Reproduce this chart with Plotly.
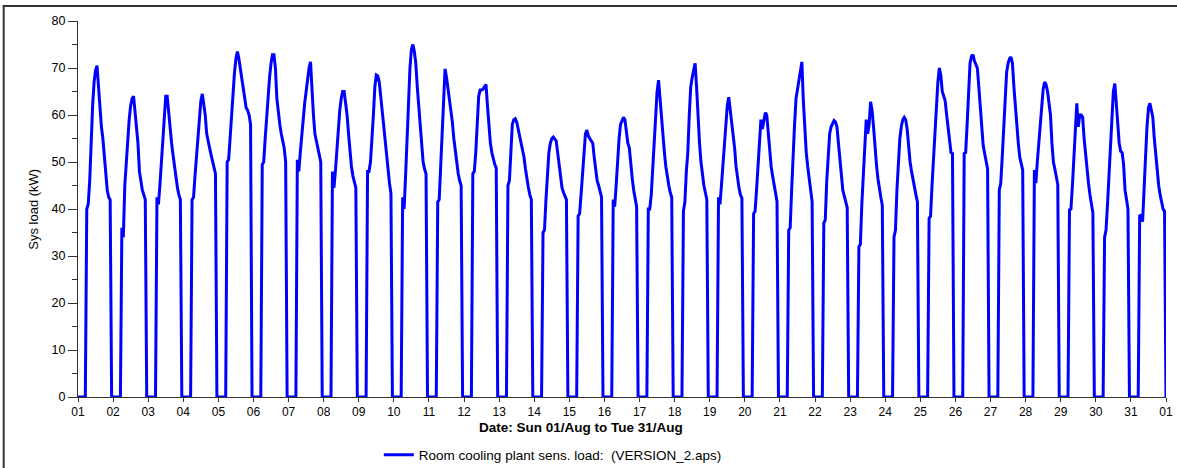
import datetime as dt
import plotly.graph_objects as go

# Hourly room cooling plant sensible load (kW) while the plant is on,
# starting at 06:00 each day (zero at all other hours)
ON_HOUR = 6
aug01 = [40, 41, 46, 55, 62, 67, 69.5, 70.5, 66, 60, 57.5, 55, 51, 46.5, 44, 42.5, 42]
aug02 = [36, 34, 45, 50, 55, 59, 62, 63.5, 64, 61, 57, 54, 48, 45.5, 44, 43, 42]
aug03 = [42.5, 41, 45, 50, 55, 60, 64, 64, 60, 56, 54, 51.5, 49, 46.5, 44.5, 43, 42]
aug04 = [42, 42.5, 47, 51.5, 56, 60, 63, 64.5, 62.5, 60, 56, 54, 53, 51.5, 50, 49, 47.5]
aug05 = [50, 50.5, 55, 60, 65.5, 69, 72, 73.5, 72, 70, 68, 65, 63, 61.5, 61, 60, 58]
aug06 = [49.5, 50, 55, 60, 64.5, 68, 71, 72.8, 72.8, 70, 63.5, 60, 58, 56, 54.5, 53, 50]
aug07 = [50.5, 48, 52, 56, 60, 62.5, 65, 68, 70, 71.3, 65, 60, 56, 54.5, 53.3, 52, 50]
aug08 = [48, 44.5, 48, 53, 58, 61, 63.5, 65, 65, 63, 60, 56, 52, 49, 47, 45.5, 44.5]
aug09 = [48, 48, 50, 54, 60, 66, 68.5, 68.3, 67, 64, 61, 57, 54, 50.5, 48, 45.5, 43.3]
aug10 = [42.5, 40, 47, 56, 64, 70, 74, 75, 73.5, 71, 66, 62, 57, 53, 50, 48.5, 47.5]
aug11 = [41.5, 42, 49, 56, 64, 69.8, 68, 65.5, 64, 61.5, 58.5, 55, 52, 49, 47.5, 46, 45]
aug12 = [47.5, 48, 52, 58.5, 64, 65.3, 65.3, 65.5, 66, 66.5, 62, 57, 54, 52, 50.5, 49.5, 48.7]
aug13 = [45, 46, 52, 58, 59, 59.2, 58.5, 57, 56, 54.5, 53, 51, 48.5, 46, 44.5, 43, 42]
aug14 = [35, 35.5, 42, 48, 52, 54, 55, 55.3, 55, 54.5, 52, 49, 46, 44.5, 43.5, 42.7, 42]
aug15 = [38.5, 39, 43, 48, 52.5, 56, 56.8, 55.5, 55, 54.5, 54, 51, 48, 46, 45, 44, 42.5]
aug16 = [42, 40.5, 45, 51, 55, 58, 59, 59.5, 59, 56, 54, 53, 49, 46.5, 44, 42, 40.5]
aug17 = [40, 40, 43, 48.5, 55, 61, 65, 67.4, 63, 59, 55.5, 52, 49, 46.5, 45, 43.5, 42.5]
aug18 = [39.5, 41.5, 48, 52, 60, 66, 68, 69.5, 71, 66, 58.5, 54, 50, 47, 45, 43.5, 42]
aug19 = [42.5, 41, 45, 49, 54, 59, 62, 63.8, 61, 58.5, 56.5, 53, 49, 46.5, 44.5, 43, 42.3]
aug20 = [39, 39.5, 44, 50, 56, 59, 57, 59, 60.5, 60, 56, 52, 49, 47, 45, 43, 41.6]
aug21 = [35.5, 36, 44, 52, 58, 63.5, 65.5, 67.5, 69.5, 71.3, 63, 57, 52, 49, 46.5, 43.5, 41.6]
aug22 = [37, 37.7, 46, 52, 56, 57.5, 58.3, 58.8, 58.5, 57.5, 54, 50, 47, 44, 42.8, 41.5, 40.3]
aug23 = [32, 32.5, 41, 48, 55, 59, 56, 58, 62.8, 61, 57.5, 53, 49.5, 46.5, 44, 42.5, 40.8]
aug24 = [34, 35.5, 44, 50, 55, 57.5, 59, 59.5, 59, 57, 53, 50, 48, 46, 44.5, 43, 41.5]
aug25 = [38, 38.5, 45, 51, 57, 62.5, 67, 70, 68.5, 65, 64, 63, 60, 57, 54, 52, 51.8]
aug26 = [51.8, 52, 58, 65, 71, 72.5, 72.8, 71.5, 70.5, 70, 66, 61, 56, 53.5, 51.8, 50, 48.5]
aug27 = [44, 45.5, 51, 58, 64, 69, 71, 72, 72.3, 71, 66, 61.5, 57, 54, 51, 49.5, 48.3]
aug28 = [48.3, 45.5, 50, 54, 59, 62.5, 65.5, 67, 66.5, 65, 63, 60, 54, 50, 48.5, 46.5, 45.2]
aug29 = [39.8, 40, 45, 51, 57, 62.5, 57.5, 60, 60, 59.5, 55, 51.5, 48, 45.5, 43, 41, 39.2]
aug30 = [34, 35.5, 41, 47, 55, 61, 65, 66.7, 62, 58, 54, 52.3, 52, 49.5, 44, 42, 40]
aug31 = [38.7, 38.5, 37.3, 43, 51, 57.5, 61.5, 62.5, 61, 59.5, 55, 51, 47.5, 45, 43, 41.5, 40, 39.5]

days = [aug01, aug02, aug03, aug04, aug05, aug06, aug07, aug08, aug09, aug10,
        aug11, aug12, aug13, aug14, aug15, aug16, aug17, aug18, aug19, aug20,
        aug21, aug22, aug23, aug24, aug25, aug26, aug27, aug28, aug29, aug30, aug31]

start = dt.datetime(2021, 8, 1)
xs, ys = [], []
for d, vals in enumerate(days):
    for h in range(24):
        xs.append(start + dt.timedelta(days=d, hours=h))
        k = h - ON_HOUR
        ys.append(vals[k] if 0 <= k < len(vals) else 0)
xs.append(start + dt.timedelta(days=len(days)))
ys.append(0)

FONT = "Liberation Sans, Arial, sans-serif"
AX = "#333333"

fig = go.Figure()
fig.add_trace(go.Scatter(
    x=xs, y=ys, mode="lines",
    line=dict(color="#0000FF", width=3),
    name="Room cooling plant sens. load:  (VERSION_2.aps)",
    showlegend=True,
))

fig.update_layout(
    width=1177, height=468,
    margin=dict(l=78, r=11, t=21, b=71, autoexpand=False),
    paper_bgcolor="white", plot_bgcolor="white",
    font=dict(family=FONT, size=11, color="black"),
    showlegend=True,
    legend=dict(orientation="h", x=0.2765, xanchor="left", y=-0.154, yanchor="middle",
                font=dict(family=FONT, size=13.5, color="black"),
                bgcolor="rgba(0,0,0,0)"),
    xaxis=dict(
        type="date",
        range=[start, start + dt.timedelta(days=31)],
        tick0=start, dtick=86400000, tickformat="%d",
        ticks="outside", ticklen=4, tickcolor=AX, tickwidth=1,
        showline=True, linecolor=AX, linewidth=1,
        showgrid=False, zeroline=False,
        tickfont=dict(family=FONT, size=12, color="black"),
    ),
    yaxis=dict(
        range=[0, 80], dtick=10, tick0=0,
        ticks="outside", ticklen=9, tickcolor=AX, tickwidth=1,
        minor=dict(dtick=5, ticks="outside", ticklen=5, tickcolor=AX, showgrid=False),
        showline=True, linecolor=AX, linewidth=1,
        showgrid=False, zeroline=False,
        tickfont=dict(family=FONT, size=12.5, color="black"),
    ),
    annotations=[
        dict(text="Date: Sun 01/Aug to Tue 31/Aug", xref="paper", yref="paper",
             x=0.462, y=-0.082, xanchor="center", yanchor="middle", showarrow=False,
             font=dict(family=FONT, size=13.5, color="black", weight="bold")),
        dict(text="Sys load (kW)", xref="paper", yref="paper",
             x=-0.0416, y=0.5, xanchor="center", yanchor="middle", showarrow=False,
             textangle=-90, font=dict(family=FONT, size=13, color="black")),
    ],
    shapes=[
        dict(type="rect", xref="paper", yref="paper",
             x0=-0.0683, x1=1.03, y0=-0.3, y1=1.0399,
             line=dict(color="#333333", width=2), fillcolor="rgba(0,0,0,0)", layer="below"),
    ],
)

fig.write_html("out.html", config={"displayModeBar": False},
               post_script="document.body.style.margin='0';document.body.style.overflow='hidden';")
